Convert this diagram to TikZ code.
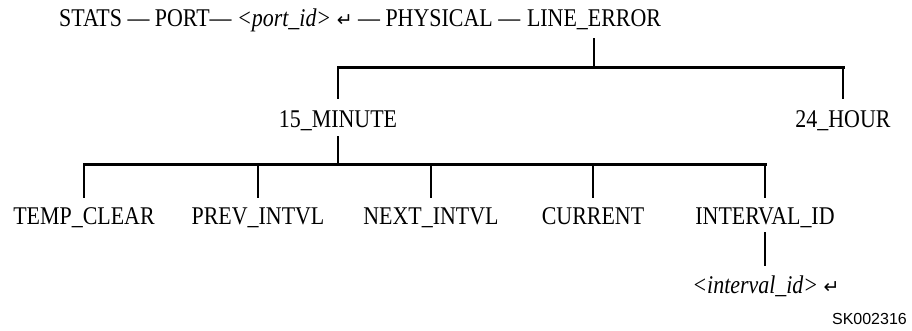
\documentclass[tikz,border=0pt]{standalone}
\usepackage{fontspec}
\setmainfont{Liberation Serif}[FakeStretch=0.86]
\newfontfamily\arrfont{DejaVu Sans}
\newfontfamily\skfont{Liberation Sans}
\newcommand{\retarrow}{{\arrfont\fontsize{19}{19}\selectfont ↵}}
\begin{document}
\begin{tikzpicture}[x=1pt,y=-1pt,
  lbl/.style={font=\fontsize{25.5}{28}\selectfont, inner sep=0pt, anchor=base},
  vline/.style={line width=2pt, line cap=rect},
  bar/.style={line width=3pt, line cap=rect}]
\useasboundingbox (0,0) rectangle (912,331);
% top line
\node[lbl] (le) at (594,27) {LINE\_ERROR};
\node[lbl, anchor=base east] (pre) at (le.base west) {STATS — PORT— \textit{<port\_id>} \retarrow{} — PHYSICAL —\hspace*{0.25em}\mbox{}};
% level 1
\coordinate (j1) at (594,68);
\coordinate (b1l) at (338,68);
\coordinate (b1r) at (843,68);
\node[lbl] (m15) at (338,128) {15\_MINUTE};
\node[lbl] (h24) at (843,128) {24\_HOUR};
\draw[vline] ([yshift=-12pt]le.base) -- (j1);
\draw[bar] (b1l) -- (b1r);
\draw[vline] (b1l) -- ([yshift=30pt]m15.base);
\draw[vline] (b1r) -- ([yshift=30pt]h24.base);
% level 2
\coordinate (j2) at (338,165);
\node[lbl] (tc) at (84,224) {TEMP\_CLEAR};
\node[lbl] (pi) at (258,224) {PREV\_INTVL};
\node[lbl] (ni) at (431,224) {NEXT\_INTVL};
\node[lbl] (cu) at (593,224) {CURRENT};
\node[lbl] (id) at (765,224) {INTERVAL\_ID};
\draw[vline] ([yshift=-9pt]m15.base) -- (j2);
\draw[bar] (tc.base |- j2) -- (id.base |- j2);
\foreach \n in {tc,pi,ni,cu,id}
  \draw[vline] (\n.base |- j2) -- ([yshift=27pt]\n.base);
% level 3
\node[lbl] (iv) at (766,293) {\textit{<interval\_id>} \retarrow};
\draw[vline] ([yshift=-9pt]id.base) -- ([yshift=28pt]iv.base -| id.base);
% figure id
\node[font=\skfont\fontsize{16}{18}\selectfont, inner sep=0pt, anchor=base east] (sk) at (907,324) {SK002316};
\end{tikzpicture}
\end{document}
